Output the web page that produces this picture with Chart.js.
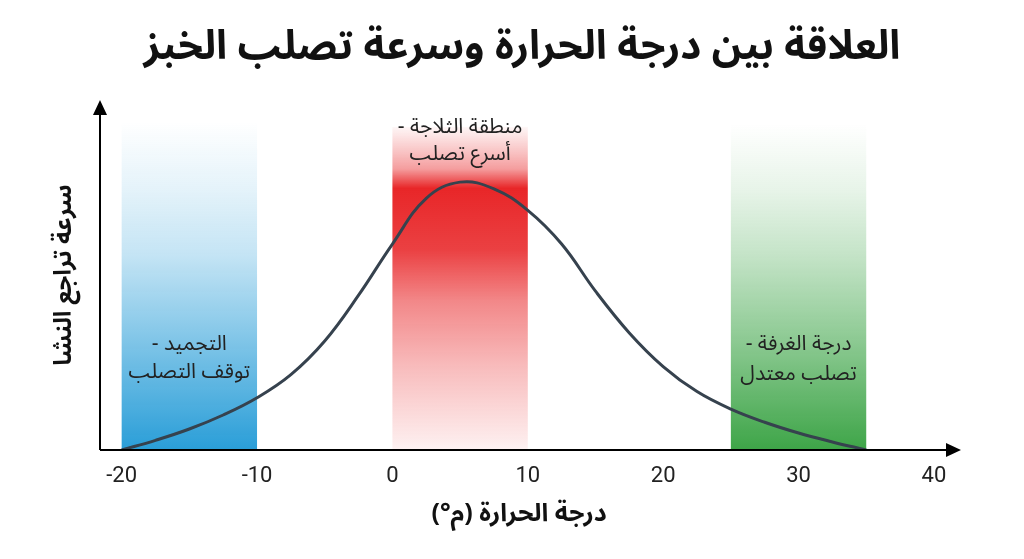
<!DOCTYPE html>
<html lang="ar">
<head>
<meta charset="utf-8">
<script src="https://cdn.jsdelivr.net/npm/chart.js@4"></script>
<style>
  html, body { margin: 0; padding: 0; background: #ffffff; }
  #wrap { width: 1024px; height: 559px; }
</style>
</head>
<body>
<div id="wrap"><canvas id="breadChart" width="1024" height="559"></canvas></div>
<script>
// Temperature (°C) and relative retrogradation rate
const temps = [-20, -17.5, -15, -12.5, -10, -7.5, -5, -2.5, 0, 2.5, 5, 7.5, 10,
               12.5, 15, 17.5, 20, 22.5, 25, 27.5, 30, 32.5, 35];
const rates = [0, 3.6, 7.8, 13, 19.4, 28, 40.5, 57.5, 76.5, 93.5, 99.5, 97, 89,
               76.5, 59, 43.5, 31, 21.7, 15.2, 10.3, 6.3, 3, 0];

// Shaded zones: start / end temperature and top of the band
const zoneStart = [-20, 0, 25];
const zoneEnd = [-10, 10, 35];
const zoneTop = [122, 120, 121];
const zoneLabels = [
    ['التجميد -', 'توقف التصلب'],
    ['منطقة الثلاجة -', 'أسرع تصلب'],
    ['درجة الغرفة -', 'تصلب معتدل']
];

const xTicks = [-20, -10, 0, 10, 20, 30, 40];

const titleText = 'العلاقة بين درجة الحرارة وسرعة تصلب الخبز';
const xTitle = 'درجة الحرارة (م°)';
const yTitle = 'سرعة تراجع النشا';

const arabicFont = "'Noto Sans Arabic', 'DejaVu Sans', sans-serif";

// Draws the gradient bands with their captions, then the arrowed axes
const zonePlugin = {
    id: 'zones',
    beforeDatasetsDraw(chart, args, opts) {
        const { ctx, scales: { x, y } } = chart;
        zoneStart.forEach((start, i) => {
            const left = x.getPixelForValue(start);
            const right = x.getPixelForValue(zoneEnd[i]);
            const top = y.getPixelForValue(zoneTop[i]);
            const bottom = y.getPixelForValue(0);
            const grad = ctx.createLinearGradient(0, top, 0, bottom);
            opts.stops[i].forEach(s => grad.addColorStop(s[0], s[1]));
            ctx.save();
            ctx.fillStyle = grad;
            ctx.fillRect(left, top, right - left, bottom - top);

            ctx.direction = 'rtl';
            ctx.textAlign = 'center';
            ctx.textBaseline = 'middle';
            ctx.fillStyle = '#222';
            ctx.font = '21px ' + arabicFont;
            zoneLabels[i].forEach((line, j) => {
                ctx.fillText(line, (left + right) / 2, y.getPixelForValue(opts.labelY[i][j]));
            });
            ctx.restore();
        });
    },
    afterDatasetsDraw(chart) {
        const { ctx, chartArea: a } = chart;
        ctx.save();
        ctx.strokeStyle = '#000';
        ctx.fillStyle = '#000';
        ctx.lineWidth = 2;
        ctx.beginPath();
        ctx.moveTo(a.left, a.bottom);
        ctx.lineTo(a.left, a.top + 10);
        ctx.moveTo(a.left, a.bottom);
        ctx.lineTo(a.right - 10, a.bottom);
        ctx.stroke();
        // arrow heads
        ctx.beginPath();
        ctx.moveTo(a.left, a.top);
        ctx.lineTo(a.left - 7, a.top + 15);
        ctx.lineTo(a.left + 7, a.top + 15);
        ctx.closePath();
        ctx.fill();
        ctx.beginPath();
        ctx.moveTo(a.right, a.bottom);
        ctx.lineTo(a.right - 15, a.bottom - 7);
        ctx.lineTo(a.right - 15, a.bottom + 7);
        ctx.closePath();
        ctx.fill();
        ctx.restore();
    }
};

// Main title and x axis caption, drawn right-to-left
const captionPlugin = {
    id: 'captions',
    afterDraw(chart) {
        const { ctx } = chart;
        ctx.save();
        ctx.direction = 'rtl';
        ctx.textAlign = 'center';
        ctx.textBaseline = 'middle';
        ctx.fillStyle = '#111';
        ctx.font = 'bold 40.5px ' + arabicFont;
        ctx.fillText(titleText, 522, 53);
        ctx.font = 'bold 25px ' + arabicFont;
        ctx.fillText(xTitle, 519, 517);
        ctx.restore();
    }
};

const ctx = document.getElementById('breadChart').getContext('2d');
new Chart(ctx, {
    type: 'line',
    data: {
        datasets: [{
            data: temps.map((t, i) => ({ x: t, y: rates[i] })),
            borderColor: '#36424e',
            borderWidth: 3,
            pointRadius: 0,
            fill: false,
            tension: 0.4
        }]
    },
    options: {
        responsive: false,
        animation: false,
        layout: { padding: { left: 0, right: 63, top: 100, bottom: 56.6 } },
        plugins: {
            legend: { display: false },
            tooltip: { enabled: false },
            title: { display: false },
            zones: {
                stops: [
                    [[0, 'rgba(42,158,216,0)'], [0.2, 'rgba(42,158,216,0.12)'], [0.4, 'rgba(42,158,216,0.27)'],
                     [0.67, 'rgba(42,158,216,0.6)'], [0.85, 'rgba(42,158,216,0.82)'], [1, 'rgba(42,158,216,1)']],
                    [[0, 'rgba(232,38,40,0.04)'], [0.07, 'rgba(232,38,40,0.25)'], [0.13, 'rgba(232,38,40,0.45)'],
                     [0.19, 'rgba(232,38,40,1)'], [0.38, 'rgba(232,38,40,0.88)'], [0.54, 'rgba(232,38,40,0.55)'],
                     [0.75, 'rgba(232,38,40,0.3)'], [0.96, 'rgba(232,38,40,0.1)'], [1, 'rgba(232,38,40,0.05)']],
                    [[0, 'rgba(62,165,72,0)'], [0.2, 'rgba(62,165,72,0.12)'], [0.4, 'rgba(62,165,72,0.3)'],
                     [0.67, 'rgba(62,165,72,0.6)'], [0.85, 'rgba(62,165,72,0.82)'], [1, 'rgba(62,165,72,1)']]
                ],
                labelY: [[38.2, 27.8], [118.8, 108.8], [38.2, 27.2]]
            }
        },
        scales: {
            x: {
                type: 'linear',
                min: -21.6,
                max: 42,
                afterBuildTicks: scale => { scale.ticks = xTicks.map(v => ({ value: v })); },
                grid: { display: false, drawTicks: false },
                border: { display: false },
                ticks: {
                    color: '#222',
                    padding: 13,
                    font: { family: 'Roboto', size: 22 },
                    callback: v => String(v)
                }
            },
            y: {
                min: 0,
                max: 130,
                grid: { display: false, drawTicks: false },
                border: { display: false },
                ticks: { display: false },
                title: {
                    display: true,
                    text: yTitle,
                    color: '#111',
                    font: { family: arabicFont, size: 24, weight: 'bold' },
                    padding: { top: 52.6, bottom: 18.6 }
                }
            }
        }
    },
    plugins: [zonePlugin, captionPlugin]
});
</script>
</body>
</html>
